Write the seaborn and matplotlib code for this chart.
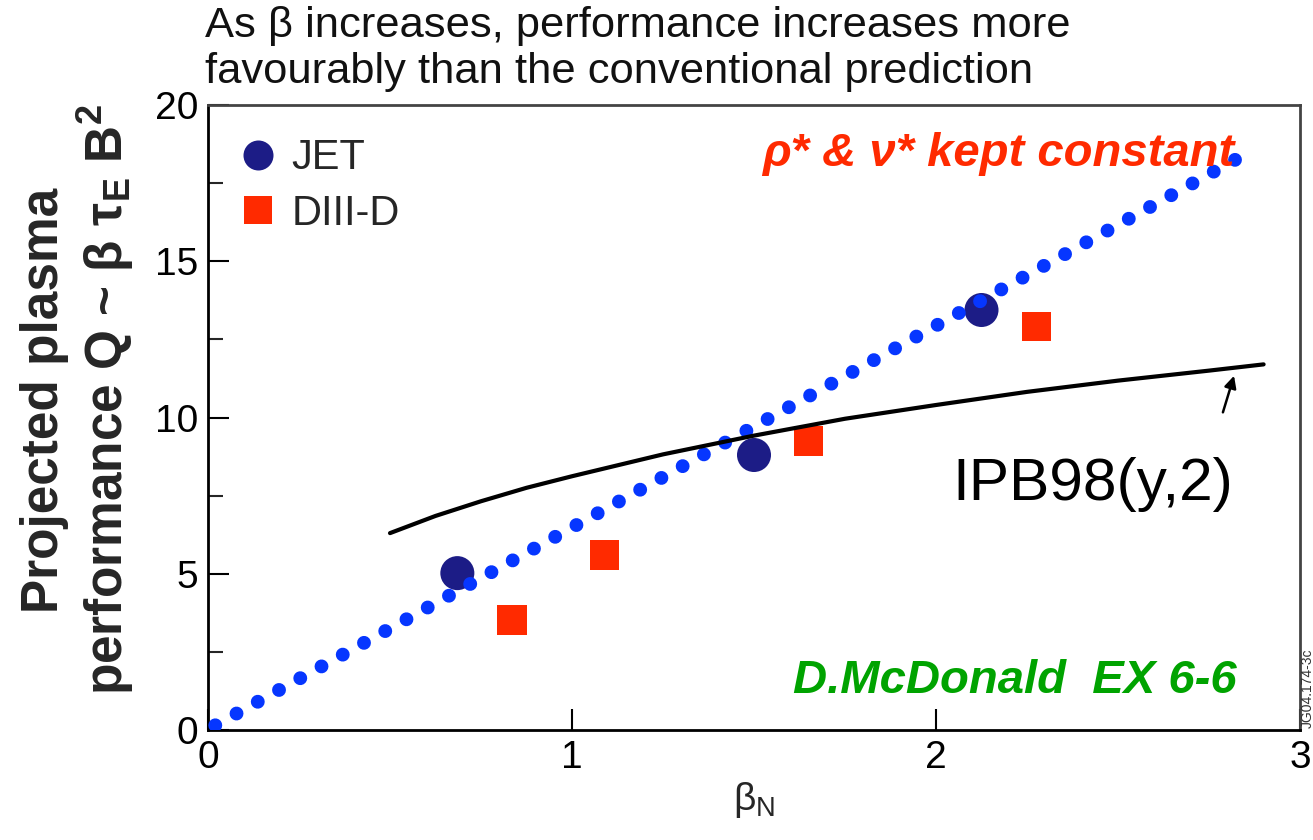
import numpy as np
import pandas as pd
import matplotlib
matplotlib.use("Agg")
import matplotlib.pyplot as plt
import seaborn as sns
from matplotlib.ticker import MultipleLocator

# ---- data -------------------------------------------------------------
jet_beta = [0.685, 1.50, 2.125]
jet_q = [5.02, 8.80, 13.44]

d3d_beta = [0.835, 1.09, 1.65, 2.275]
d3d_q = [3.52, 5.60, 9.25, 12.90]

# projection at fixed rho* and nu*
const_beta = [0.02, 2.83]
const_q = [0.15, 18.30]

# IPB98(y,2) prediction
ipb_beta = [0.50, 0.625, 0.75, 0.875, 1.00, 1.25, 1.50, 1.75, 2.00, 2.25,
            2.50, 2.75, 2.90]
ipb_q = [6.30, 6.85, 7.32, 7.75, 8.12, 8.82, 9.42, 9.96, 10.40, 10.82,
         11.18, 11.50, 11.70]

x_ticks = [0, 1, 2, 3]
y_ticks = [0, 5, 10, 15, 20]

navy = "#1c1c86"
red = "#ff2a00"
blue = "#0636ff"
green = "#00a300"

# ---- style ------------------------------------------------------------
sns.set_theme(style="white")
plt.rcParams["font.family"] = ["Liberation Sans", "DejaVu Sans"]
plt.rcParams["mathtext.fontset"] = "custom"
plt.rcParams["mathtext.rm"] = "Liberation Sans"
plt.rcParams["mathtext.it"] = "Liberation Sans:italic"
plt.rcParams["mathtext.bf"] = "Liberation Sans:bold"

fig = plt.figure(figsize=(13.13, 8.40), dpi=100)
ax = fig.add_axes([208 / 1313, 110 / 840, 1092 / 1313, 625 / 840])

df = pd.DataFrame({
    "beta": jet_beta + d3d_beta,
    "Q": jet_q + d3d_q,
    "device": ["JET"] * len(jet_beta) + ["DIII-D"] * len(d3d_beta),
})

sns.scatterplot(
    data=df, x="beta", y="Q", hue="device", style="device", size="device",
    hue_order=["JET", "DIII-D"], style_order=["JET", "DIII-D"],
    size_order=["JET", "DIII-D"],
    markers={"JET": "o", "DIII-D": "s"},
    sizes={"JET": 600, "DIII-D": 441},
    palette={"JET": navy, "DIII-D": red},
    linewidth=0, ax=ax, zorder=2,
)

# round dots: near-zero dash with round caps
sns.lineplot(
    x=const_beta, y=const_q, ax=ax, color=blue, linewidth=10,
    linestyle=(0, (0.001, 1.748)), dash_capstyle="round",
    legend=False, zorder=3,
)

sns.lineplot(
    x=ipb_beta, y=ipb_q, ax=ax, color="black", linewidth=3.0,
    legend=False, zorder=4,
)

# ---- axes -------------------------------------------------------------
ax.set_xlim(0, 3)
ax.set_ylim(0, 20)
ax.set_xticks(x_ticks)
ax.set_yticks(y_ticks)
ax.yaxis.set_minor_locator(MultipleLocator(2.5))
ax.tick_params(which="major", direction="in", length=15, width=1.5,
               labelsize=28, pad=7, bottom=True, left=True,
               top=False, right=False, colors="black")
ax.tick_params(which="minor", direction="in", length=11, width=1.5,
               left=True, bottom=False, top=False, right=False)
for side in ["left", "bottom"]:
    ax.spines[side].set_color("black")
    ax.spines[side].set_linewidth(2)
for side in ["top", "right"]:
    ax.spines[side].set_color("#444444")
    ax.spines[side].set_linewidth(2)

ax.set_xlabel(r"β$_\mathrm{N}$", fontsize=28, labelpad=3)
ax.set_ylabel("")

# legend
handles, labels = ax.get_legend_handles_labels()
leg = ax.legend(handles, labels, loc="upper left",
                bbox_to_anchor=(0.0266, 0.947), borderaxespad=0,
                borderpad=0, frameon=False, fontsize=30,
                handlelength=1.0, handletextpad=0.30, labelspacing=0.38)
for h, ms in zip(leg.legend_handles, [21.6, 20.0]):
    h.set_markersize(ms)

# ---- annotations ------------------------------------------------------
ax.text(2.819, 18.05, "ρ* & ν* kept constant", color=red, fontsize=34,
        fontweight="bold", fontstyle="italic", ha="right", va="baseline")
ax.text(2.827, 1.18, "D.McDonald  EX 6-6", color=green, fontsize=34,
        fontweight="bold", fontstyle="italic", ha="right", va="baseline")
ax.text(2.044, 7.36, "IPB98(y,2)", color="black", fontsize=43.5,
        ha="left", va="baseline")
ax.annotate("", xy=(2.821, 11.42), xytext=(2.786, 10.08),
            arrowprops=dict(arrowstyle="-|>", color="black", lw=1.8,
                            mutation_scale=18))

fig.text(205 / 1313, 1 - 37 / 840,
         "As β increases, performance increases more",
         fontsize=31.3, ha="left", va="baseline", color="#111111")
fig.text(205 / 1313, 1 - 83 / 840,
         "favourably than the conventional prediction",
         fontsize=31.3, ha="left", va="baseline", color="#111111")

fig.text(78 / 1313, 1 - 400 / 840,
         "Projected plasma\nperformance Q ~ β τ$_\\mathbf{E}$ B$^\\mathbf{2}$",
         fontsize=37, fontweight="bold", rotation=90,
         ha="center", va="center", multialignment="center",
         linespacing=1.15)

fig.text(1301 / 1313, 112 / 840, "JG04.174-3c", fontsize=10,
         color="#333333", rotation=90, ha="left", va="bottom")

fig.savefig("out.png", dpi=100)
